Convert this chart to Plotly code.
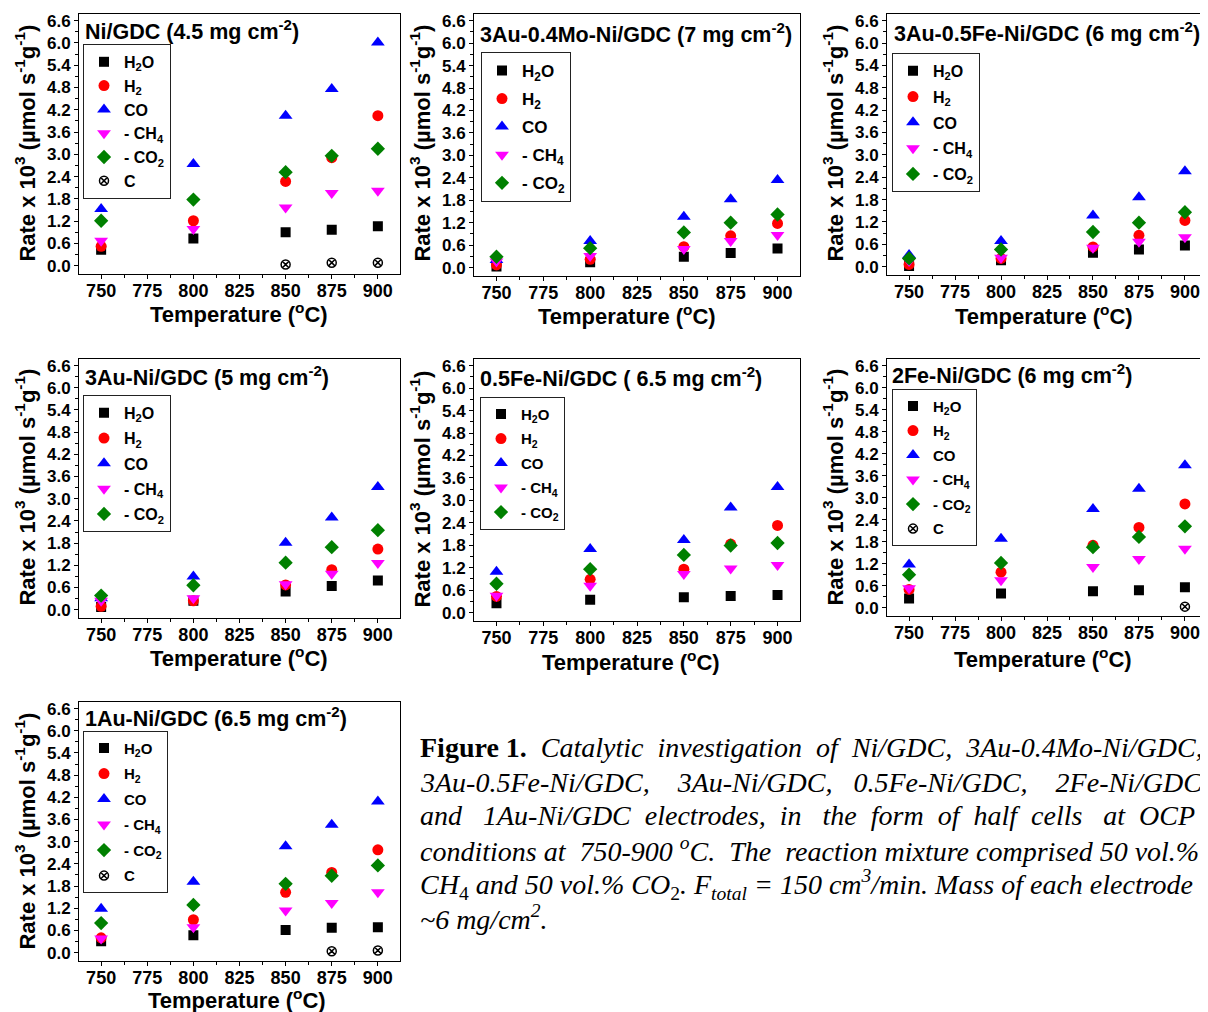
import plotly.graph_objects as go

# ---------------- data ----------------
temperature = [750, 800, 850, 875, 900]
x_tick_values = [750, 775, 800, 825, 850, 875, 900]

panel_titles = [
    "Ni/GDC (4.5 mg cm<sup>-2</sup>)",
    "3Au-0.4Mo-Ni/GDC (7 mg cm<sup>-2</sup>)",
    "3Au-0.5Fe-Ni/GDC (6 mg cm<sup>-2</sup>)",
    "3Au-Ni/GDC (5 mg cm<sup>-2</sup>)",
    "0.5Fe-Ni/GDC ( 6.5 mg cm<sup>-2</sup>)",
    "2Fe-Ni/GDC (6 mg cm<sup>-2</sup>)",
    "1Au-Ni/GDC (6.5 mg cm<sup>-2</sup>)",
]
x_title = "Temperature (<sup>o</sup>C)"
y_title = "Rate x 10<sup>3</sup> (µmol s<sup>-1</sup>g<sup>-1</sup>)"

h2o_rate = [
    [0.43, 0.73, 0.90, 0.97, 1.06],
    [0.03, 0.14, 0.29, 0.39, 0.51],
    [0.02, 0.17, 0.37, 0.46, 0.57],
    [0.07, 0.24, 0.49, 0.64, 0.79],
    [0.25, 0.34, 0.41, 0.44, 0.47],
    [0.25, 0.39, 0.45, 0.48, 0.56],
    [0.31, 0.47, 0.61, 0.67, 0.69],
]
h2_rate = [
    [0.52, 1.21, 2.27, 2.91, 4.04],
    [0.07, 0.22, 0.56, 0.85, 1.18],
    [0.06, 0.22, 0.53, 0.84, 1.24],
    [0.09, 0.24, 0.67, 1.08, 1.64],
    [0.43, 0.89, 1.16, 1.83, 2.33],
    [0.50, 0.97, 1.70, 2.19, 2.83],
    [0.40, 0.89, 1.63, 2.17, 2.78],
]
co_rate = [
    [1.53, 2.74, 4.04, 4.76, 6.01],
    [0.20, 0.71, 1.36, 1.83, 2.34],
    [0.31, 0.69, 1.37, 1.86, 2.56],
    [0.31, 0.90, 1.81, 2.49, 3.32],
    [1.09, 1.70, 1.94, 2.81, 3.36],
    [1.18, 1.88, 2.69, 3.24, 3.88],
    [1.19, 1.92, 2.88, 3.46, 4.09],
]
ch4_rate = [
    [0.67, 0.99, 1.57, 1.96, 2.02],
    [0.16, 0.31, 0.50, 0.71, 0.87],
    [0.15, 0.24, 0.51, 0.67, 0.79],
    [0.24, 0.31, 0.69, 0.97, 1.26],
    [0.45, 0.72, 1.03, 1.18, 1.27],
    [0.53, 0.75, 1.11, 1.33, 1.61],
    [0.38, 0.69, 1.14, 1.34, 1.63],
]
co2_rate = [
    [1.21, 1.78, 2.52, 2.96, 3.15],
    [0.29, 0.52, 0.94, 1.20, 1.42],
    [0.22, 0.46, 0.93, 1.18, 1.46],
    [0.38, 0.66, 1.27, 1.69, 2.15],
    [0.77, 1.16, 1.54, 1.79, 1.86],
    [0.90, 1.22, 1.65, 1.93, 2.22],
    [0.80, 1.29, 1.86, 2.08, 2.36],
]
c_rate = [
    [None, None, 0.03, 0.08, 0.08],
    [None, None, None, None, None],
    [None, None, None, None, None],
    [None, None, None, None, None],
    [None, None, None, None, None],
    [None, None, None, None, 0.03],
    [None, None, None, 0.04, 0.06],
]

series_names = ["H<sub>2</sub>O", "H<sub>2</sub>", "CO", "- CH<sub>4</sub>", "- CO<sub>2</sub>", "C"]

caption_lines = [
    "<b>Figure 1.</b>  <i>Catalytic  investigation  of  Ni/GDC,  3Au-0.4Mo-Ni/GDC,</i>",
    "<i>3Au-0.5Fe-Ni/GDC,    3Au-Ni/GDC,   0.5Fe-Ni/GDC,    2Fe-Ni/GDC</i>",
    "<i>and   1Au-Ni/GDC  electrodes,  in   the  form  of  half  cells   at  OCP</i>",
    "<i>conditions at  750-900 <sup>o</sup>C.  The  reaction mixture comprised 50 vol.%</i>",
    "<i>CH</i><sub>4</sub><i> and 50 vol.% CO</i><sub>2</sub><i>. F<sub>total</sub> = 150 cm<sup>3</sup>/min. Mass of each electrode</i>",
    "<i>~6 mg/cm<sup>2</sup>.</i>",
]

# ---------------- styling / layout ----------------
OFF = 8                 # default page body margin
W, H = 1200, 1004       # figure size so that page fits the window


def px_x(px):
    return (px - OFF) / W


def px_y(py):
    return 1 - (py - OFF) / H


styles = [
    dict(symbol="square", color="black", size=10),
    dict(symbol="circle", color="red", size=11),
    dict(symbol="triangle-up", color="blue", size=12),
    dict(symbol="triangle-down", color="magenta", size=12),
    dict(symbol="diamond", color="green", size=11),
    dict(symbol="circle-x-open", color="black", size=9),
]

# plot-area boxes in reference-image pixels: left, top, right, bottom
boxes = [
    (79, 12, 400, 273),
    (474, 12, 800, 275),
    (887, 12, 1207, 274),
    (79, 358, 400, 618),
    (474, 358, 800, 621),
    (887, 358, 1207, 616),
    (79, 702, 400, 962),
]
# legend: left, top (px), font size, group gap
legend_cfg = [
    (83, 42, 16, 0),
    (481, 50, 17, 3),
    (892, 51, 16, 2),
    (83, 394, 16, 1.5),
    (480, 396, 15, 2),
    (892, 388, 15, 2),
    (83, 731, 15, 3),
]
title_pos = [
    (83, 28), (478, 31), (892, 30), (83, 375), (478, 376), (890, 373), (83, 717)
]
xtitle_pos = [(239, 312), (627, 314), (1044, 314), (239, 657), (631, 661), (1043, 658), (237, 1000)]
ytitle_pos = [(25, 142), (420, 142), (833, 142), (25, 487), (420, 489), (833, 487), (25, 832)]
caption_y = [748, 783, 816, 850, 885, 918]

FONT = "Liberation Sans, Arial, sans-serif"
SERIF = "Liberation Serif, Times New Roman, serif"

fig = go.Figure()
all_series = [h2o_rate, h2_rate, co_rate, ch4_rate, co2_rate, c_rate]

for p in range(7):
    sfx = "" if p == 0 else str(p + 1)
    leg = "legend" if p == 0 else f"legend{p + 1}"
    for s, data in enumerate(all_series):
        vals = data[p]
        if all(v is None for v in vals):
            continue
        st = styles[s]
        marker = dict(symbol=st["symbol"], color=st["color"], size=st["size"])
        if st["symbol"].endswith("open"):
            marker["line"] = dict(color=st["color"], width=1.5)
        else:
            marker["line"] = dict(width=0)
        fig.add_trace(go.Scatter(
            x=temperature, y=vals, mode="markers", name=series_names[s],
            marker=marker, xaxis="x" + sfx, yaxis="y" + sfx,
            legend=leg, legendgroup=f"p{p}s{s}", showlegend=True,
        ))

layout = dict(
    width=W, height=H, autosize=False,
    margin=dict(l=0, r=0, t=0, b=0),
    paper_bgcolor="white", plot_bgcolor="white",
    font=dict(family=FONT, color="black"),
    annotations=[],
)

for p in range(7):
    sfx = "" if p == 0 else str(p + 1)
    l, t, r, b = boxes[p]
    xa = dict(
        domain=[px_x(l), px_x(r)], anchor="y" + sfx, range=[738, 912],
        tickmode="array", tickvals=x_tick_values,
        ticks="outside", ticklen=4, tickwidth=1, tickcolor="black",
        ticklabelstandoff=-4,
        minor=dict(ticks="outside", ticklen=3, dtick=12.5, tick0=750, tickcolor="black"),
        showline=True, linecolor="black", linewidth=1, mirror=True,
        showgrid=False, zeroline=False,
        tickfont=dict(size=18, family=FONT, weight="bold"),
    )
    ya = dict(
        domain=[px_y(b), px_y(t)], anchor="x" + sfx, range=[-0.23, 6.78],
        tick0=0, dtick=0.6, tickformat=".1f",
        ticks="outside", ticklen=4, tickwidth=1, tickcolor="black",
        minor=dict(ticks="outside", ticklen=3, dtick=0.3, tick0=0, tickcolor="black"),
        showline=True, linecolor="black", linewidth=1, mirror=True,
        showgrid=False, zeroline=False,
        tickfont=dict(size=17, family=FONT, weight="bold"),
    )
    layout["xaxis" + sfx] = xa
    layout["yaxis" + sfx] = ya

    lx, ly, lfs, gap = legend_cfg[p]
    legkey = "legend" if p == 0 else f"legend{p + 1}"
    layout[legkey] = dict(
        x=px_x(lx), y=px_y(ly), xanchor="left", yanchor="top",
        bgcolor="white", bordercolor="#222222", borderwidth=1,
        font=dict(size=lfs, family=FONT, weight="bold"),
        tracegroupgap=gap, traceorder="grouped",
    )

    tx, ty = title_pos[p]
    layout["annotations"].append(dict(
        text=panel_titles[p], x=px_x(tx), y=px_y(ty), xref="paper", yref="paper",
        xanchor="left", yanchor="middle", showarrow=False,
        font=dict(size=21.5, family=FONT, weight="bold", color="black"),
    ))
    xx, xy = xtitle_pos[p]
    layout["annotations"].append(dict(
        text=x_title, x=px_x(xx), y=px_y(xy), xref="paper", yref="paper",
        xanchor="center", yanchor="middle", showarrow=False,
        font=dict(size=22, family=FONT, weight="bold", color="black"),
    ))
    yx, yy = ytitle_pos[p]
    layout["annotations"].append(dict(
        text=y_title, x=px_x(yx), y=px_y(yy), xref="paper", yref="paper",
        xanchor="center", yanchor="middle", showarrow=False, textangle=-90,
        font=dict(size=22, family=FONT, weight="bold", color="black"),
    ))

for line, cy in zip(caption_lines, caption_y):
    layout["annotations"].append(dict(
        text=line, x=px_x(418), y=px_y(cy), xref="paper", yref="paper",
        xanchor="left", yanchor="middle", align="left", showarrow=False,
        font=dict(size=28, family=SERIF, color="black"),
    ))

fig.update_layout(**layout)
fig.write_html("out.html")
